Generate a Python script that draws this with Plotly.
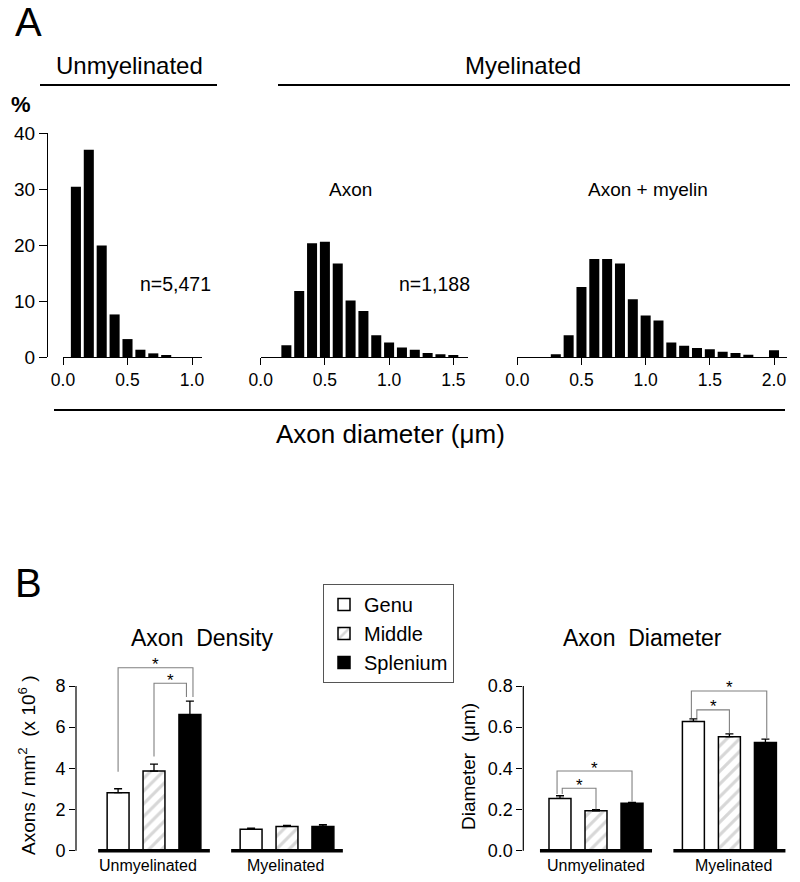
import plotly.graph_objects as go

W, H = 800, 882
FONT = "Liberation Sans, Arial, Helvetica, sans-serif"

# ---------------- Panel A data (percent of axons per 0.1 um bin) ----------------
unmy_bins = [0.1, 0.2, 0.3, 0.4, 0.5, 0.6, 0.7, 0.8]
unmy_pct = [30.4, 37.0, 19.9, 7.6, 3.2, 1.3, 0.65, 0.25]

axon_bins = [0.2, 0.3, 0.4, 0.5, 0.6, 0.7, 0.8, 0.9, 1.0, 1.1, 1.2, 1.3, 1.4, 1.5]
axon_pct = [2.1, 11.8, 20.3, 20.6, 16.7, 10.1, 8.2, 3.9, 2.6, 1.7, 1.3, 0.7, 0.5, 0.2]

myel_bins = [0.3, 0.4, 0.5, 0.6, 0.7, 0.8, 0.9, 1.0, 1.1, 1.2, 1.3, 1.4, 1.5, 1.6, 1.7, 1.8, 2.0]
myel_pct = [0.5, 3.9, 12.5, 17.5, 17.5, 16.7, 10.3, 7.4, 6.5, 2.6, 2.0, 1.6, 1.4, 0.95, 0.7, 0.4, 1.2]

hist_yticks = [0, 10, 20, 30, 40]
hist1_xticks = [0.0, 0.5, 1.0]
hist2_xticks = [0.0, 0.5, 1.0, 1.5]
hist3_xticks = [0.0, 0.5, 1.0, 1.5, 2.0]

# ---------------- Panel B data ----------------
groups = ["Unmyelinated", "Myelinated"]
regions = ["Genu", "Middle", "Splenium"]

density_genu = [2.82, 1.04]
density_middle = [3.87, 1.18]
density_splenium = [6.61, 1.18]
density_genu_se = [0.19, 0.06]
density_middle_se = [0.34, 0.05]
density_splenium_se = [0.66, 0.08]

diam_genu = [0.254, 0.628]
diam_middle = [0.194, 0.554]
diam_splenium = [0.230, 0.525]
diam_genu_se = [0.013, 0.012]
diam_middle_se = [0.005, 0.013]
diam_splenium_se = [0.005, 0.017]

density_yticks = [0, 2, 4, 6, 8]
diam_yticks = [0.0, 0.2, 0.4, 0.6, 0.8]

# significance brackets: (group, left bar, right bar, dx_left, dx_right, y_left, y_top, y_right)
density_brackets = [
    (0, 0, 2, 0.0, 0.023, 3.84, 8.89, 7.47),
    (0, 1, 2, 0.0, -0.026, 4.57, 8.13, 7.47),
]
diam_brackets = [
    (0, 0, 2, -0.022, 0.0, 0.275, 0.387, 0.238),
    (0, 0, 1, 0.017, 0.0, 0.275, 0.303, 0.201),
    (1, 0, 2, -0.015, 0.01, 0.645, 0.776, 0.546),
    (1, 0, 1, 0.026, 0.0, 0.645, 0.684, 0.572),
]

# ---------------- helpers ----------------
def xdom(p0, p1):
    return [p0 / W, p1 / W]

def ydom(ptop, pbot):
    return [1 - pbot / H, 1 - ptop / H]

def lin_range(va, pa, vb, pb, d0, d1):
    k = (vb - va) / (pb - pa)
    return [va + (d0 - pa) * k, va + (d1 - pa) * k]

def px(x):
    return x / W

def py(y):
    return 1 - y / H

BARGAP = 0.19
SLOT = (1 - BARGAP) / 3

def bar_x(g, i):
    return g + (i - 1) * SLOT

fig = go.Figure()

# ---------------- histograms ----------------
for bins, pct, xa, ya in [(unmy_bins, unmy_pct, "x", "y"),
                          (axon_bins, axon_pct, "x2", "y2"),
                          (myel_bins, myel_pct, "x3", "y3")]:
    fig.add_trace(go.Bar(x=bins, y=pct, width=0.078, xaxis=xa, yaxis=ya,
                         marker=dict(color="black", line=dict(width=0)),
                         showlegend=False, hoverinfo="skip"))

# ---------------- grouped bars ----------------
styles = {
    "Genu": dict(color="white", line=dict(color="black", width=1.5)),
    "Middle": dict(color="white", line=dict(color="black", width=1.5),
                   pattern=dict(shape="/", fgcolor="#b0b0b0", bgcolor="white", size=9, solidity=0.35)),
    "Splenium": dict(color="black", line=dict(color="black", width=1.5)),
}

dens = {"Genu": (density_genu, density_genu_se),
        "Middle": (density_middle, density_middle_se),
        "Splenium": (density_splenium, density_splenium_se)}
diam = {"Genu": (diam_genu, diam_genu_se),
        "Middle": (diam_middle, diam_middle_se),
        "Splenium": (diam_splenium, diam_splenium_se)}

gx = list(range(len(groups)))
for r in regions:
    m, s = dens[r]
    fig.add_trace(go.Bar(x=gx, y=m, name=r, xaxis="x4", yaxis="y4",
                         marker=styles[r], legendgroup=r, showlegend=True,
                         error_y=dict(type="data", symmetric=False, array=s,
                                      arrayminus=[0] * len(s), color="black",
                                      thickness=1.3, width=4)))
for r in regions:
    m, s = diam[r]
    fig.add_trace(go.Bar(x=gx, y=m, name=r, xaxis="x5", yaxis="y5",
                         marker=styles[r], legendgroup=r, showlegend=False,
                         error_y=dict(type="data", symmetric=False, array=s,
                                      arrayminus=[0] * len(s), color="black",
                                      thickness=1.3, width=4)))

# ---------------- axes ----------------
tickfont_h = dict(family=FONT, size=17.5, color="black")
axis_common = dict(showgrid=False, zeroline=False, linecolor="black", linewidth=1.2,
                   tickcolor="black", tickwidth=1.2, ticks="outside", automargin=False)

hist_ydom = ydom(133, 357)
fig.update_layout(
    xaxis=dict(domain=xdom(63, 202), range=lin_range(0, 63, 1.0, 192, 63, 202),
               anchor="y", showline=True, ticklen=7, tickvals=hist1_xticks,
               ticktext=[f"{v:.1f}" for v in hist1_xticks], tickfont=tickfont_h, **axis_common),
    yaxis=dict(domain=hist_ydom, range=[0, 40], anchor="free", position=47 / W,
               showline=True, ticklen=8, tickvals=hist_yticks,
               tickfont=dict(family=FONT, size=19, color="black"), **axis_common),
    xaxis2=dict(domain=xdom(260.7, 468.3), range=lin_range(0, 260.7, 1.5, 453.3, 260.7, 468.3),
                anchor="y2", showline=True, ticklen=7, tickvals=hist2_xticks,
                ticktext=[f"{v:.1f}" for v in hist2_xticks], tickfont=tickfont_h, **axis_common),
    yaxis2=dict(domain=hist_ydom, range=[0, 40], anchor="x2", visible=False, automargin=False),
    xaxis3=dict(domain=xdom(517.3, 786.7), range=lin_range(0, 517.3, 2.0, 774, 517.3, 786.7),
                anchor="y3", showline=True, ticklen=7, tickvals=hist3_xticks,
                ticktext=[f"{v:.1f}" for v in hist3_xticks], tickfont=tickfont_h, **axis_common),
    yaxis3=dict(domain=hist_ydom, range=[0, 40], anchor="x3", visible=False, automargin=False),
    xaxis4=dict(domain=xdom(76, 350), range=lin_range(0, 154, 1, 287, 76, 350),
                anchor="y4", visible=False, automargin=False),
    yaxis4=dict(domain=ydom(655, 858), range=lin_range(0, 850.7, 8, 686, 858, 655),
                anchor="x4", showline=False, ticklen=6, tickvals=density_yticks,
                tickfont=dict(family=FONT, size=18, color="black"), automargin=False,
                showgrid=False, zeroline=False, ticks="outside", tickcolor="black", tickwidth=1.2),
    xaxis5=dict(domain=xdom(523.3, 790), range=lin_range(0, 596, 1, 729.4, 523.3, 790),
                anchor="y5", visible=False, automargin=False),
    yaxis5=dict(domain=ydom(675, 858), range=lin_range(0, 850.7, 0.8, 686, 858, 675),
                anchor="x5", showline=False, ticklen=6, tickvals=diam_yticks,
                ticktext=[f"{v:.1f}" for v in diam_yticks], automargin=False,
                tickfont=dict(family=FONT, size=18, color="black"),
                showgrid=False, zeroline=False, ticks="outside", tickcolor="black", tickwidth=1.2),
)

# ---------------- shapes ----------------
shapes = []
# header / footer lines panel A
for x0, x1, y in [(40, 217, 85), (278, 790, 85), (54, 785, 410)]:
    shapes.append(dict(type="line", xref="paper", yref="paper", x0=px(x0), x1=px(x1),
                       y0=py(y), y1=py(y), line=dict(color="black", width=1.8)))
# y-axis lines and baselines for panel B
for xa, ya, top in [("x4", "y4", density_yticks[-1]), ("x5", "y5", diam_yticks[-1])]:
    shapes.append(dict(type="line", xref=f"{xa} domain", yref=ya, x0=0, x1=0, y0=0, y1=top,
                       line=dict(color="black", width=1.2)))
    for g in gx:
        shapes.append(dict(type="line", xref=xa, yref=ya, x0=g - 0.42, x1=g + 0.42, y0=0, y1=0,
                           line=dict(color="black", width=3.5)))

annotations = []
def star(xa, ya, x, y):
    annotations.append(dict(text="*", xref=xa, yref=ya, x=x, y=y, showarrow=False,
                            xanchor="center", yanchor="middle", yshift=3,
                            font=dict(family=FONT, size=17, color="black")))

for xa, ya, brs in [("x4", "y4", density_brackets), ("x5", "y5", diam_brackets)]:
    for g, i0, i1, dx0, dx1, yl, yt, yr in brs:
        xl = bar_x(g, i0) + dx0
        xr = bar_x(g, i1) + dx1
        shapes.append(dict(type="path", xref=xa, yref=ya,
                           path=f"M {xl},{yl} L {xl},{yt} L {xr},{yt} L {xr},{yr}",
                           line=dict(color="#808080", width=1.1)))
        star(xa, ya, (xl + xr) / 2, yt)

# ---------------- text ----------------
def txt(s, x, y, size, **kw):
    d = dict(text=s, xref="paper", yref="paper", x=px(x), y=py(y), showarrow=False,
             xanchor="center", yanchor="middle",
             font=dict(family=FONT, size=size, color="black"))
    d.update(kw)
    annotations.append(d)

txt("A", 28, 22, 40)
txt("B", 28, 583, 40)
txt("Unmyelinated", 129, 66, 24)
txt("Myelinated", 523, 66, 24)
txt("<b>%</b>", 21, 104, 22)
txt("Axon", 350, 189, 19)
txt("Axon + myelin", 648, 189, 19)
txt("n=5,471", 175, 284, 19.5)
txt("n=1,188", 434, 284, 19.5)
txt("Axon diameter (μm)", 390, 434, 26)
txt("Axon\u00a0 Density", 202, 638, 23)
txt("Axon\u00a0 Diameter", 642, 638, 23)
txt("Axons / mm<sup>2</sup>\u00a0 (x 10<sup>6</sup> )", 27, 765, 19, textangle=-90)
txt("Diameter\u00a0 (μm)", 468, 767, 19, textangle=-90)

for xa, shifts in [("x4", [-6, -2]), ("x5", [0, 4])]:
    for g, name in enumerate(groups):
        annotations.append(dict(text=name, xref=xa, yref="paper", x=g, y=py(865),
                                xshift=shifts[g], showarrow=False, xanchor="center",
                                yanchor="middle", font=dict(family=FONT, size=16, color="black")))

fig.update_layout(
    width=W, height=H, margin=dict(l=0, r=0, t=0, b=0, autoexpand=False),
    paper_bgcolor="white", plot_bgcolor="white",
    barmode="group", bargap=BARGAP, bargroupgap=0.39,
    font=dict(family=FONT, color="black"),
    shapes=shapes, annotations=annotations,
    legend=dict(x=px(323), y=py(584), xanchor="left", yanchor="top",
                bordercolor="#555555", borderwidth=1, bgcolor="white",
                font=dict(family=FONT, size=20, color="black"),
                traceorder="normal", tracegroupgap=4, itemwidth=30),
)

fig.write_html("out.html", config={"displayModeBar": False},
               post_script="document.body.style.margin='0';document.body.style.padding='0';")
